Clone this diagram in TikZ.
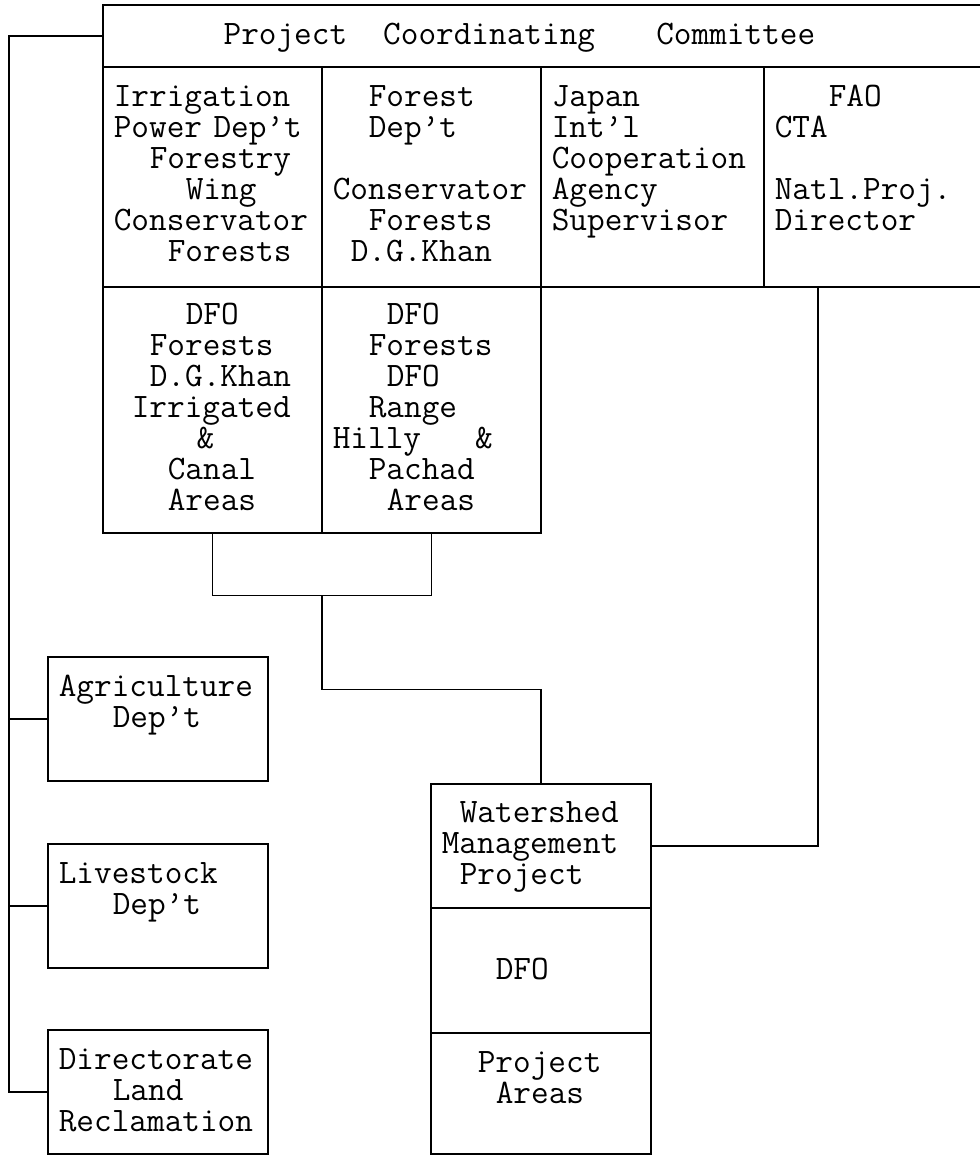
\documentclass[tikz,border=0pt]{standalone}
\usepackage{fontspec}
\usepackage{tikz}
\usetikzlibrary{calc}
\newlength\chw
\setlength\chw{18pt}
\newcommand\indt[1]{\hspace*{#1\chw}}
\newcommand\apo{\textquoteright}

\begin{document}
\begin{tikzpicture}
	[x=1pt, y=1pt,
	line width=1.6pt,
	cell/.style = {draw, anchor=north west, inner xsep=11pt, inner ysep=0pt, align=left,
		text height=40pt, font=\ttfamily\fontsize{34.29}{31}\selectfont}
	]
	\useasboundingbox (0,0) rectangle (979,1155);

	\node[cell, text width=861pt, text depth=22pt] (pcc) at (102,1151) {\indt{6.1}Project\indt{2}Coordinating\indt{3.4}Committee};

	\node[cell, text width=197pt, text depth=180pt] (ipd) at (102,1089) {Irrigation\\Power~Dep\apo t\\\indt{2}Forestry\\\indt{4}Wing\\Conservator\\\indt{3}Forests};
	\node[cell, text width=197pt, text depth=180pt] (fd) at (321,1089) {\indt{2}Forest\\\indt{2}Dep\apo t\\\mbox{}\\Conservator\\\indt{2}Forests\\\indt{1}D.G.Khan};
	\node[cell, text width=201pt, text depth=180pt] (jica) at (540,1089) {Japan\\Int\apo l\\Cooperation\\Agency\\Supervisor};
	\node[cell, text width=200pt, text depth=180pt] (fao) at (763,1089) {\indt{3}FAO\\CTA\\\mbox{}\\Natl.Proj.\\Director};

	\node[cell, text width=197pt, text height=38pt, text depth=208pt] (dfoi) at (102,869) {\indt{4}DFO\\\indt{2}Forests\\\indt{2}D.G.Khan\\\indt{1}Irrigated\\\indt{4.6}\&\\\indt{3}Canal\\\indt{3}Areas};
	\node[cell, text width=197pt, text height=38pt, text depth=208pt] (dfoh) at (321,869) {\indt{3}DFO\\\indt{2}Forests\\\indt{3}DFO\\\indt{2}Range\\Hilly\indt{3}\&\\\indt{2}Pachad\\\indt{3}Areas};

	\node[cell, text width=198pt, text depth=84pt] (agri) at (47,499) {Agriculture\\\indt{3}Dep\apo t};
	\node[cell, text width=198pt, text depth=84pt] (live) at (47,312) {Livestock\\\indt{3}Dep\apo t};
	\node[cell, text width=198pt, text depth=84pt] (dlr) at (47,126) {Directorate\\\indt{3}Land\\Reclamation};

	\node[cell, text width=198pt, text height=39pt, text depth=85pt] (wmp) at (430,372) {\indt{1}Watershed\\Management\\\indt{1}Project};
	\node[cell, text width=198pt, text height=72pt, text depth=53pt] (wdfo) at (430,248) {\indt{3}DFO};
	\node[cell, text width=198pt, text depth=81pt] (parea) at (430,123) {\indt{2}Project\\\indt{3}Areas};

	\coordinate (bus) at (9,0);
	\draw (pcc.west) -| (bus |- dlr.west) -- (dlr.west);
	\draw (agri.west) -- (agri.west -| bus);
	\draw (live.west) -- (live.west -| bus);

	\coordinate (join) at ($(dfoi.south)!0.5!(dfoh.south)+(0,-62)$);
	\draw (dfoi.south) |- (join) -| (dfoh.south);
	\draw (join) -- ++(0,-94) -| (wmp.north);

	\coordinate (faotap) at ($(fao.south west)+(55,0)$);
	\draw (faotap) |- (wmp.east);
\end{tikzpicture}
\end{document}
